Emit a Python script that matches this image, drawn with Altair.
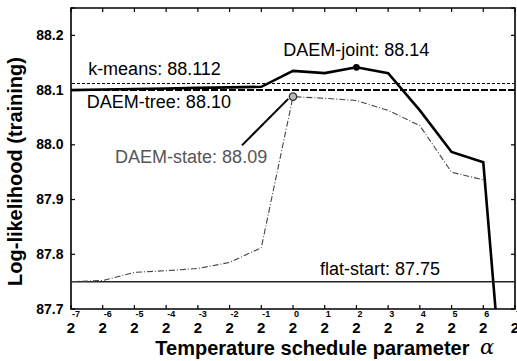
import altair as alt
import pandas as pd

# ---- data ----
exps = list(range(-7, 8))
y_ticks = [87.7, 87.8, 87.9, 88.0, 88.1, 88.2]

joint_x = [-7, -6, -5, -4, -3, -2, -1, 0, 1, 2, 3, 4, 5, 6, 6.5]
joint_y = [88.100, 88.101, 88.102, 88.103, 88.104, 88.105, 88.106, 88.135,
           88.131, 88.1416, 88.131, 88.063, 87.987, 87.968, 87.62]

state_x = [-7, -6, -5, -4, -3, -2, -1, 0, 1, 2, 3, 4, 5, 6]
state_y = [87.750, 87.752, 87.767, 87.770, 87.774, 87.785, 87.812, 88.088,
           88.085, 88.081, 88.063, 88.035, 87.950, 87.936]

kmeans_val = 88.112
tree_val = 88.10
flat_val = 87.75

label_text = ["k-means: 88.112", "DAEM-tree: 88.10", "DAEM-joint: 88.14",
              "DAEM-state: 88.09", "flat-start: 87.75"]
label_x = [-6.46, -6.50, -0.31, -5.61, 0.85]
label_y = [88.127, 88.067, 88.162, 87.966, 87.762]
label_color = ["black", "black", "black", "#555555", "black"]

arrow_x = [-1.61, -0.15]
arrow_y = [87.999, 88.084]

W, H = 444, 301
xs = alt.Scale(domain=[-7, 7], nice=False, zero=False)
ys = alt.Scale(domain=[87.7, 88.25], nice=False, zero=False)

joint_df = pd.DataFrame({"x": joint_x, "y": joint_y})
state_df = pd.DataFrame({"x": state_x, "y": state_y})
ref_df = pd.DataFrame({"y": [kmeans_val, tree_val, flat_val],
                       "name": ["k-means", "DAEM-tree", "flat-start"]})
lab_df = pd.DataFrame({"t": label_text, "x": label_x, "y": label_y, "c": label_color})
arrow_df = pd.DataFrame({"x": arrow_x, "y": arrow_y})
exp_df = pd.DataFrame({"e": exps, "s": [str(e) for e in exps]})
yt_df = pd.DataFrame({"v": y_ticks + [88.25]})

FONT = "Liberation Sans"

base_x = alt.X("x:Q", scale=xs,
               axis=alt.Axis(labels=False, ticks=False, domain=False, grid=False,
                             title="Temperature schedule parameter",
                             titleFont=FONT, titleFontSize=20, titleFontWeight="bold",
                             titleAlign="right", titleX=398, titleY=45,
                             titleBaseline="alphabetic", titleColor="black"))
base_y = alt.Y("y:Q", scale=ys,
               axis=alt.Axis(values=y_ticks, format=".1f", ticks=False, domain=False,
                             grid=False, labelFont=FONT, labelFontSize=14,
                             labelFontWeight="bold", labelColor="black", labelPadding=8,
                             title="Log-likelihood (training)", titleFont=FONT,
                             titleFontSize=20, titleFontWeight="bold", titleColor="black",
                             titleX=-56, titleY=163, titleAngle=270,
                             titleBaseline="middle", titleAlign="center"))

joint = alt.Chart(joint_df).mark_line(color="black", strokeWidth=2.6, clip=True).encode(
    x=base_x, y=base_y)

state = alt.Chart(state_df).mark_line(color="#444444", strokeWidth=1.1,
                                      strokeDash=[6, 2, 1, 2]).encode(
    x=alt.X("x:Q", scale=xs), y=alt.Y("y:Q", scale=ys))

kmeans = alt.Chart(ref_df[ref_df.name == "k-means"]).mark_rule(
    color="black", strokeWidth=1.2, strokeDash=[3, 2]).encode(y=alt.Y("y:Q", scale=ys))
tree = alt.Chart(ref_df[ref_df.name == "DAEM-tree"]).mark_rule(
    color="black", strokeWidth=2, strokeDash=[7, 2]).encode(y=alt.Y("y:Q", scale=ys))
flat = alt.Chart(ref_df[ref_df.name == "flat-start"]).mark_rule(
    color="#222222", strokeWidth=1.5).encode(y=alt.Y("y:Q", scale=ys))

arrow = alt.Chart(arrow_df).mark_line(color="black", strokeWidth=2).encode(
    x=alt.X("x:Q", scale=xs), y=alt.Y("y:Q", scale=ys))

joint_pt = alt.Chart(pd.DataFrame({"x": [2], "y": [88.1416]})).mark_point(
    filled=True, color="black", size=45, opacity=1).encode(
    x=alt.X("x:Q", scale=xs), y=alt.Y("y:Q", scale=ys))
state_pt = alt.Chart(pd.DataFrame({"x": [0], "y": [88.088]})).mark_point(
    filled=False, shape="circle", fill="#bbbbbb", fillOpacity=1, stroke="#333333",
    strokeWidth=1.3, size=55, opacity=1).encode(
    x=alt.X("x:Q", scale=xs), y=alt.Y("y:Q", scale=ys))

labels = alt.Chart(lab_df).mark_text(align="left", baseline="alphabetic",
                                     font=FONT, fontSize=18).encode(
    x=alt.X("x:Q", scale=xs), y=alt.Y("y:Q", scale=ys), text="t:N",
    color=alt.Color("c:N", scale=None))

# x tick labels "2" with superscript exponents
two = alt.Chart(exp_df).mark_text(align="center", baseline="alphabetic", font=FONT,
                                  fontSize=15, fontWeight="bold", color="black").encode(
    x=alt.X("e:Q", scale=xs), y=alt.value(H + 24), text=alt.value("2"))
sup = alt.Chart(exp_df).mark_text(align="left", baseline="alphabetic", font=FONT,
                                  fontSize=9, fontWeight="bold", color="black", dx=1).encode(
    x=alt.X("e:Q", scale=xs), y=alt.value(H + 8), text="s:N")
alpha = alt.Chart(pd.DataFrame({"a": ["α"]})).mark_text(
    align="left", baseline="alphabetic", font="DejaVu Serif", fontStyle="italic",
    fontSize=21, color="black").encode(
    x=alt.value(409), y=alt.value(H + 45), text="a:N")

# inward ticks on all four sides
bt = alt.Chart(exp_df).mark_rule(color="black", strokeWidth=1.2).encode(
    x=alt.X("e:Q", scale=xs), y=alt.value(H), y2=alt.value(H - 4))
tt = alt.Chart(exp_df).mark_rule(color="black", strokeWidth=1.2).encode(
    x=alt.X("e:Q", scale=xs), y=alt.value(0), y2=alt.value(4))
lt = alt.Chart(yt_df).mark_rule(color="black", strokeWidth=1.2).encode(
    y=alt.Y("v:Q", scale=ys), x=alt.value(0), x2=alt.value(4))
rt = alt.Chart(yt_df).mark_rule(color="black", strokeWidth=1.2).encode(
    y=alt.Y("v:Q", scale=ys), x=alt.value(W), x2=alt.value(W - 4))

chart = alt.layer(joint, flat, state, kmeans, tree, arrow, joint_pt, state_pt, labels,
                  two, sup, alpha, bt, tt, lt, rt).properties(
    width=W, height=H,
    autosize=alt.AutoSizeParams(type="none"),
    padding={"left": 71, "top": 8, "right": 2, "bottom": 52},
    background="white",
).configure_view(stroke="black", strokeWidth=1.6)

chart.save("out.html", embed_options={"renderer": "svg", "actions": False})
